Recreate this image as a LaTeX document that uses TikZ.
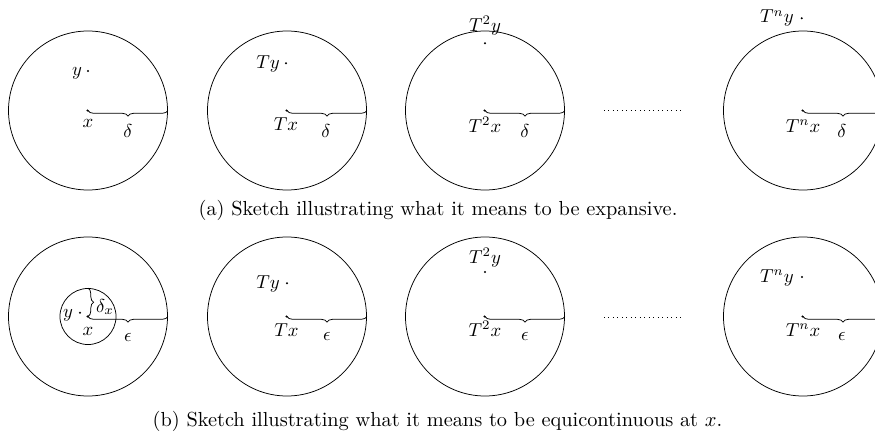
\documentclass[tikz,border=0pt]{standalone}
\usetikzlibrary{decorations.pathreplacing}
\begin{document}
\begin{tikzpicture}[x=0.5336pt,y=-0.5336pt,
  ball/.style={circle,draw,inner sep=0pt,minimum size=84.84pt},
  smallball/.style={circle,draw,inner sep=0pt,minimum size=29.9pt},
  pt/.style={circle,fill,inner sep=0pt,minimum size=1.2pt},
  lab/.style={inner sep=0pt,anchor=base},
  caplab/.style={inner sep=0pt,anchor=base,font=\fontsize{10.85}{13}\selectfont},
  radbrace/.style={decorate,decoration={brace,mirror,amplitude=3pt}},
  dotsline/.style={dotted}]
\useasboundingbox (0,0) rectangle (875,436);
% ---------- row (a) ----------
\node[ball] (a1) at (88,110.5) {};
\node[pt] (a1x) at (87.5,110.5) {};
\node[pt] (a1y) at (88,71) {};
\node[lab] (a1yl) at (77,75) {$y$};
\node[lab] (a1xl) at (88,127) {$x$};
\draw[radbrace] (a1.center) -- (a1.east);
\node[lab] (a1d) at (128,137) {$\delta$};

\node[ball] (a2) at (287,110.5) {};
\node[pt] (a2x) at (286.5,110.5) {};
\node[pt] (a2y) at (286,63.3) {};
\node[lab] (a2yl) at (268,68) {$Ty$};
\node[lab] (a2xl) at (286,131) {$Tx$};
\draw[radbrace] (a2.center) -- (a2.east);
\node[lab] (a2d) at (326,137) {$\delta$};

\node[ball] (a3) at (485,110.5) {};
\node[pt] (a3x) at (484.5,110.5) {};
\node[pt] (a3y) at (485,43.3) {};
\node[lab] (a3yl) at (485,31.5) {$T^2y$};
\node[lab] (a3xl) at (485,132) {$T^2x$};
\draw[radbrace] (a3.center) -- (a3.east);
\node[lab] (a3d) at (525,137) {$\delta$};

\coordinate (ad1) at (604,110.5);
\coordinate (ad2) at (682,110.5);
\draw[dotsline] (ad1) -- (ad2);

\node[ball] (a4) at (803,110.5) {};
\node[pt] (a4x) at (802.5,110.5) {};
\node[pt] (a4y) at (801.7,18.3) {};
\node[lab] (a4yl) at (777,23) {$T^ny$};
\node[lab] (a4xl) at (803,132) {$T^nx$};
\draw[radbrace] (a4.center) -- (a4.east);
\node[lab] (a4d) at (842,137) {$\delta$};

\node[caplab] (capa) at (438,216) {(a) Sketch illustrating what it means to be expansive.};

% ---------- row (b) ----------
\node[ball] (b1) at (88,316.5) {};
\node[smallball] (b1s) at (88,316.5) {};
\node[pt] (b1x) at (87.5,316.5) {};
\node[pt] (b1y) at (80,312.7) {};
\node[lab] (b1yl) at (68,317) {$y$};
\node[lab] (b1xl) at (88,335) {$x$};
\draw[radbrace] (b1s.center) -- (b1s.north);
\node[lab] (b1dx) at (105,312) {$\delta_x$};
\draw[radbrace] (b1.center) -- (b1.east);
\node[lab] (b1e) at (128,341) {$\epsilon$};

\node[ball] (b2) at (287,316.5) {};
\node[pt] (b2x) at (286.5,316.5) {};
\node[pt] (b2y) at (287,283.3) {};
\node[lab] (b2yl) at (268,288) {$Ty$};
\node[lab] (b2xl) at (286.5,336) {$Tx$};
\draw[radbrace] (b2.center) -- (b2.east);
\node[lab] (b2e) at (327,340) {$\epsilon$};

\node[ball] (b3) at (485,316.5) {};
\node[pt] (b3x) at (484.5,316.5) {};
\node[pt] (b3y) at (485,272) {};
\node[lab] (b3yl) at (485,263) {$T^2y$};
\node[lab] (b3xl) at (485,336) {$T^2x$};
\draw[radbrace] (b3.center) -- (b3.east);
\node[lab] (b3e) at (525,340) {$\epsilon$};

\coordinate (bd1) at (604,317);
\coordinate (bd2) at (682,317);
\draw[dotsline] (bd1) -- (bd2);

\node[ball] (b4) at (803,316.5) {};
\node[pt] (b4x) at (802.5,316.5) {};
\node[pt] (b4y) at (802,277) {};
\node[lab] (b4yl) at (777,282) {$T^ny$};
\node[lab] (b4xl) at (803,336) {$T^nx$};
\draw[radbrace] (b4.center) -- (b4.east);
\node[lab] (b4e) at (842,340) {$\epsilon$};

\node[caplab] (capb) at (437.5,426) {(b) Sketch illustrating what it means to be equicontinuous at $x$.};
\end{tikzpicture}
\end{document}
